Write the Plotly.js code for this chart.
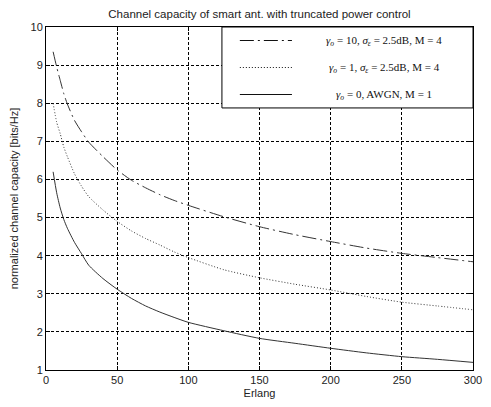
<!DOCTYPE html>
<html>
<head>
<meta charset="utf-8">
<script src="https://cdn.plot.ly/plotly-3.0.1.min.js"></script>
<style>html,body{margin:0;padding:0;background:#fff;}#chart{width:491px;height:407px;}</style>
</head>
<body>
<div id="chart"></div>
<script>
// Erlang values (x)
const erlang = [5, 7.5, 10, 12.5, 15, 20, 25, 30, 40, 50, 60, 70, 80, 90, 100, 125, 150, 175, 200, 225, 250, 275, 300];
// gamma_o = 10, sigma = 2.5 dB, M = 4
const capG10 = [9.35, 8.95, 8.6, 8.25, 7.98, 7.55, 7.25, 6.98, 6.6, 6.25, 5.98, 5.78, 5.6, 5.45, 5.32, 5.02, 4.76, 4.55, 4.37, 4.2, 4.06, 3.95, 3.84];
// gamma_o = 1, sigma = 2.5 dB, M = 4
const capG1 = [8.0, 7.5, 7.2, 6.85, 6.6, 6.15, 5.82, 5.55, 5.2, 4.9, 4.65, 4.45, 4.28, 4.1, 3.95, 3.63, 3.42, 3.25, 3.1, 2.93, 2.78, 2.68, 2.58];
// gamma_o = 0, AWGN, M = 1
const capAWGN = [6.2, 5.65, 5.25, 4.95, 4.72, 4.35, 4.05, 3.75, 3.4, 3.12, 2.88, 2.68, 2.52, 2.38, 2.25, 2.03, 1.83, 1.7, 1.57, 1.45, 1.35, 1.28, 1.2];

const xTicks = [0, 50, 100, 150, 200, 250, 300];
const yTicks = [1, 2, 3, 4, 5, 6, 7, 8, 9, 10];
const seriesNames = [
  '<i>γ</i><sub><i>o</i></sub> = 10, <i>σ</i><sub><i>ε</i></sub> = 2.5dB, M = 4',
  '<i>γ</i><sub><i>o</i></sub> = 1, <i>σ</i><sub><i>ε</i></sub> = 2.5dB, M = 4',
  '<i>γ</i><sub><i>o</i></sub> = 0, AWGN, M = 1'
];

const dashes = ['14px,4px,2px,4px', '1px,2px', 'solid'];
const lineColor = '#333';

const traces = [capG10, capG1, capAWGN].map((ys, i) => ({
  x: erlang, y: ys, type: 'scatter', mode: 'lines', name: seriesNames[i],
  line: {color: lineColor, width: 1, dash: dashes[i], shape: 'spline', smoothing: 0.6},
  showlegend: false, hoverinfo: 'skip'
}));

// manual legend (box, samples, labels) in paper coordinates
const rowY = [0.9606, 0.8819, 0.8032];
const shapes = [{
  type: 'rect', xref: 'paper', yref: 'paper', x0: 0.412, x1: 1, y0: 0.764, y1: 1,
  line: {color: '#000', width: 1}, fillcolor: '#fff', layer: 'above'
}];
const annotations = [];
rowY.forEach((yy, i) => {
  shapes.push({type: 'line', xref: 'paper', yref: 'paper', x0: 0.454, x1: 0.576, y0: yy, y1: yy,
    line: {color: '#111', width: 1, dash: dashes[i]}, layer: 'above'});
  annotations.push({xref: 'paper', yref: 'paper', x: 0.7916, y: yy, xanchor: 'center', yanchor: 'middle',
    text: seriesNames[i], showarrow: false, font: {family: 'Liberation Serif, Times New Roman, serif', size: 11, color: '#111'}});
});

const axisCommon = {
  showline: true, linecolor: '#000', linewidth: 1, mirror: 'ticks',
  ticks: 'inside', ticklen: 4, tickcolor: '#000',
  showgrid: true, gridcolor: '#000', gridwidth: 1, griddash: '3px,2px',
  zeroline: false, tickfont: {family: 'Liberation Sans, Arial, sans-serif', size: 11, color: '#222'}
};

const layout = {
  width: 491, height: 407,
  margin: {l: 46, r: 18, t: 27, b: 37},
  paper_bgcolor: '#fff', plot_bgcolor: '#fff',
  title: {text: 'Channel capacity of smart ant. with truncated power control',
    font: {family: 'Liberation Sans, Arial, sans-serif', size: 11.5, color: '#222'},
    x: 0.5285, xanchor: 'center', y: 0.965, yanchor: 'middle'},
  xaxis: Object.assign({}, axisCommon, {range: [0, 300], tickvals: xTicks,
    title: {text: 'Erlang', font: {family: 'Liberation Sans, Arial, sans-serif', size: 11, color: '#222'}, standoff: 4}}),
  yaxis: Object.assign({}, axisCommon, {range: [1, 10], tickvals: yTicks,
    title: {text: 'normalized channel capacity [bits/Hz]', font: {family: 'Liberation Sans, Arial, sans-serif', size: 11, color: '#222'}, standoff: 9}}),
  shapes: shapes, annotations: annotations, showlegend: false
};

Plotly.newPlot('chart', traces, layout, {staticPlot: true, displayModeBar: false});
</script>
</body>
</html>
